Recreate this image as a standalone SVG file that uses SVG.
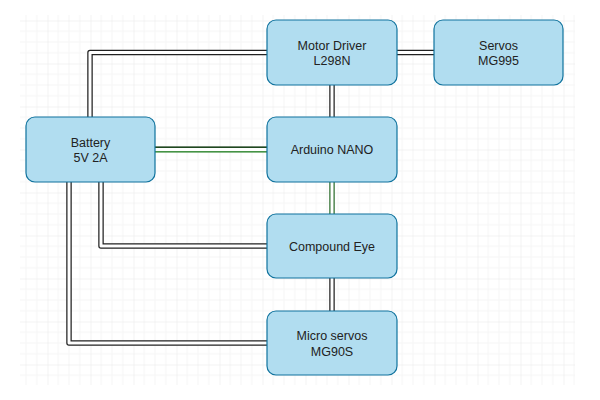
<svg xmlns="http://www.w3.org/2000/svg" width="600" height="400" viewBox="0 0 600 400">
<defs>
<pattern id="grid" patternUnits="userSpaceOnUse" x="4.5" y="20.5" width="43" height="43">
<path d="M10.75 0V43M21.5 0V43M32.25 0V43M0 10.75H43M0 21.5H43M0 32.25H43" stroke="#f5f5f5" stroke-width="1" fill="none"/>
<path d="M0 0V43M0 0H43" stroke="#e8e8e8" stroke-width="1" fill="none"/>
</pattern>
<style>
.node rect{fill:#b1ddf0;stroke:#10739e;stroke-width:1.2}
.node text{font-family:"Liberation Sans",Arial,sans-serif;font-size:12.5px;fill:#222;text-anchor:middle}
.outer{fill:none;stroke:#222;stroke-width:5.5;stroke-linejoin:round}
.inner{fill:none;stroke:#fff;stroke-width:3;stroke-linejoin:round}
.gouter{fill:none;stroke:#2f6f2f;stroke-width:5.5}
</style>
</defs>
<rect width="600" height="400" fill="#fff"/>
<rect x="20" y="15" width="555" height="370" fill="url(#grid)"/>
<g id="connectors">
<path class="outer" d="M90 117V52.5H267"/>
<path class="inner" d="M90 117V52.5H267"/>
<path class="outer" d="M397 52.5H434"/>
<path class="inner" d="M397 52.5H434"/>
<path class="outer" d="M332 85V117"/>
<path class="inner" d="M332 85V117"/>
<path class="gouter" d="M155 149.5H267"/>
<path d="M155 147.2H267" stroke="#1b3b1b" stroke-width="1.2" fill="none"/>
<path d="M155 151.8H267" stroke="#4f9f4f" stroke-width="1.2" fill="none"/>
<path class="inner" d="M155 149.5H267"/>
<path class="gouter" d="M332 182V214"/>
<path class="inner" d="M332 182V214"/>
<path class="outer" d="M101 182V246H267"/>
<path class="inner" d="M101 182V246H267"/>
<path class="outer" d="M69 182V343H267"/>
<path class="inner" d="M69 182V343H267"/>
<path class="outer" d="M332 278V311"/>
<path class="inner" d="M332 278V311"/>
</g>
<g id="motor-driver" class="node"><rect x="267" y="20" width="130" height="65" rx="9"/><text x="332" y="49.5">Motor Driver</text><text x="332" y="65">L298N</text></g>
<g id="servos" class="node"><rect x="434" y="20" width="129" height="65" rx="9"/><text x="498.5" y="49.5">Servos</text><text x="498.5" y="65">MG995</text></g>
<g id="battery" class="node"><rect x="26" y="117" width="129" height="65" rx="9"/><text x="90.5" y="146.5">Battery</text><text x="90.5" y="162">5V 2A</text></g>
<g id="arduino" class="node"><rect x="267" y="117" width="130" height="65" rx="9"/><text x="332" y="154">Arduino NANO</text></g>
<g id="compound-eye" class="node"><rect x="267" y="214" width="130" height="64" rx="9"/><text x="332" y="250.5">Compound Eye</text></g>
<g id="micro-servos" class="node"><rect x="267" y="311" width="130" height="64" rx="9"/><text x="332" y="340">Micro servos</text><text x="332" y="355.5">MG90S</text></g>
</svg>
